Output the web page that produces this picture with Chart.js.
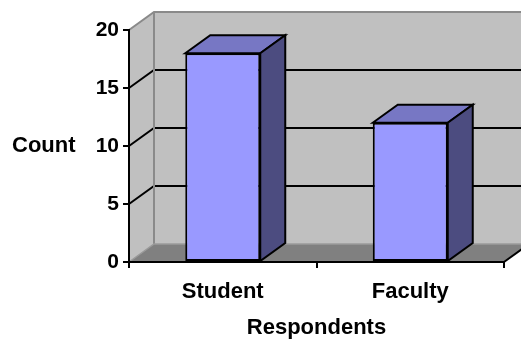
<!DOCTYPE html>
<html>
<head>
<meta charset="utf-8">
<script src="https://cdn.jsdelivr.net/npm/chart.js@4.4.1/dist/chart.umd.min.js"></script>
<style>
  html, body { margin: 0; padding: 0; background: #ffffff; }
  #wrap { width: 521px; height: 345px; }
</style>
</head>
<body>
<div id="wrap"><canvas id="chart" width="521" height="345"></canvas></div>
<script>
// Survey respondents by group
const categories = ['Student', 'Faculty'];
const counts = [18, 12];
const yTicks = [0, 5, 10, 15, 20];
const yTitle = 'Count';
const xTitle = 'Respondents';

// 3-D look: how far the back plane sits from the front plane
const DEPTH_X = 25;
const DEPTH_Y = -18;
const FAMILY = '"Liberation Sans", Arial, sans-serif';

function fillPoly(ctx, pts, fill, stroke, lw) {
  ctx.beginPath();
  ctx.moveTo(pts[0][0], pts[0][1]);
  for (let i = 1; i < pts.length; i++) ctx.lineTo(pts[i][0], pts[i][1]);
  ctx.closePath();
  if (fill) { ctx.fillStyle = fill; ctx.fill(); }
  if (stroke) { ctx.strokeStyle = stroke; ctx.lineWidth = lw || 1; ctx.lineJoin = 'miter'; ctx.stroke(); }
}

function line(ctx, pts, color, lw) {
  ctx.beginPath();
  ctx.moveTo(pts[0][0], pts[0][1]);
  for (let i = 1; i < pts.length; i++) ctx.lineTo(pts[i][0], pts[i][1]);
  ctx.strokeStyle = color;
  ctx.lineWidth = lw;
  ctx.stroke();
}

// Walls, floor and back gridlines behind the bars; bar tops and sides in front
const box3d = {
  id: 'box3d',
  beforeDraw(chart) {
    const { ctx, chartArea: a, scales: { y } } = chart;
    const dx = DEPTH_X, dy = DEPTH_Y;
    const L = a.left, R = a.right;
    const T = y.getPixelForValue(yTicks[yTicks.length - 1]);
    const B = y.getPixelForValue(yTicks[0]);
    ctx.save();
    // side wall
    fillPoly(ctx, [[L, T], [L + dx, T + dy], [L + dx, B + dy], [L, B]], '#c0c0c0');
    // back wall
    fillPoly(ctx, [[L + dx, T + dy], [R + dx, T + dy], [R + dx, B + dy], [L + dx, B + dy]], '#c0c0c0');
    // floor
    fillPoly(ctx, [[L, B], [L + dx, B + dy], [R + dx, B + dy], [R, B]], '#808080');
    // gridlines along side wall and back wall
    yTicks.forEach(v => {
      if (v === yTicks[0] || v === yTicks[yTicks.length - 1]) return;
      const py = y.getPixelForValue(v);
      line(ctx, [[L, py], [L + dx, py + dy], [R + dx, py + dy]], '#000000', 2);
    });
    // wall edges
    line(ctx, [[L, T], [L + dx, T + dy], [R + dx, T + dy]], '#8a8a8a', 2);
    line(ctx, [[L + dx, T + dy], [L + dx, B + dy]], '#8a8a8a', 2);
    line(ctx, [[L, B], [L + dx, B + dy], [R + dx, B + dy]], '#9a9a9a', 1.5);
    line(ctx, [[R, B], [R + dx, B + dy]], '#000000', 2);
    ctx.restore();
  },
  afterDatasetsDraw(chart) {
    const { ctx } = chart;
    const dx = DEPTH_X, dy = DEPTH_Y;
    const meta = chart.getDatasetMeta(0);
    ctx.save();
    meta.data.forEach(bar => {
      const p = bar.getProps(['x', 'y', 'base', 'width'], true);
      const l = p.x - p.width / 2, r = p.x + p.width / 2;
      const t = p.y, b = p.base;
      // top face
      fillPoly(ctx, [[l, t], [l + dx, t + dy], [r + dx, t + dy], [r, t]], '#7777c4', '#000000', 2);
      // right side face
      fillPoly(ctx, [[r, t], [r + dx, t + dy], [r + dx, b + dy], [r, b]], '#4c4c80', '#000000', 2);
    });
    ctx.restore();
  },
  afterDraw(chart) {
    const { ctx, chartArea: a } = chart;
    ctx.save();
    ctx.font = 'bold 22px ' + FAMILY;
    ctx.fillStyle = '#000000';
    ctx.textAlign = 'left';
    ctx.textBaseline = 'middle';
    ctx.fillText(yTitle, 12, (a.top + a.bottom) / 2);
    ctx.restore();
  }
};

new Chart(document.getElementById('chart'), {
  type: 'bar',
  data: {
    labels: categories,
    datasets: [{
      data: counts,
      backgroundColor: '#9999ff',
      borderColor: '#000000',
      borderWidth: 2,
      borderSkipped: false,
      barPercentage: 0.4,
      categoryPercentage: 1
    }]
  },
  options: {
    responsive: false,
    animation: false,
    devicePixelRatio: 1,
    layout: { padding: { top: 30, right: 17, left: 0, bottom: 0 } },
    plugins: { legend: { display: false }, tooltip: { enabled: false } },
    scales: {
      x: {
        afterFit(scale) { scale.height = 83; },
        grid: { display: true, drawOnChartArea: false, drawTicks: true, tickLength: 6, color: '#000000', lineWidth: 2 },
        border: { display: true, color: '#000000', width: 2 },
        ticks: { color: '#000000', padding: 11, font: { family: FAMILY, size: 22, weight: 'bold' } },
        title: {
          display: true, text: xTitle, color: '#000000',
          font: { family: FAMILY, size: 22, weight: 'bold' },
          padding: { top: 0, bottom: 4 }
        }
      },
      y: {
        min: yTicks[0],
        max: yTicks[yTicks.length - 1],
        afterFit(scale) { scale.width = 129; },
        afterBuildTicks(scale) { scale.ticks = yTicks.map(v => ({ value: v })); },
        grid: { display: true, drawOnChartArea: false, drawTicks: true, tickLength: 6, color: '#000000', lineWidth: 2 },
        border: { display: true, color: '#000000', width: 2 },
        ticks: { color: '#000000', padding: 4, font: { family: FAMILY, size: 21, weight: 'bold' } }
      }
    }
  },
  plugins: [box3d]
});
</script>
</body>
</html>
